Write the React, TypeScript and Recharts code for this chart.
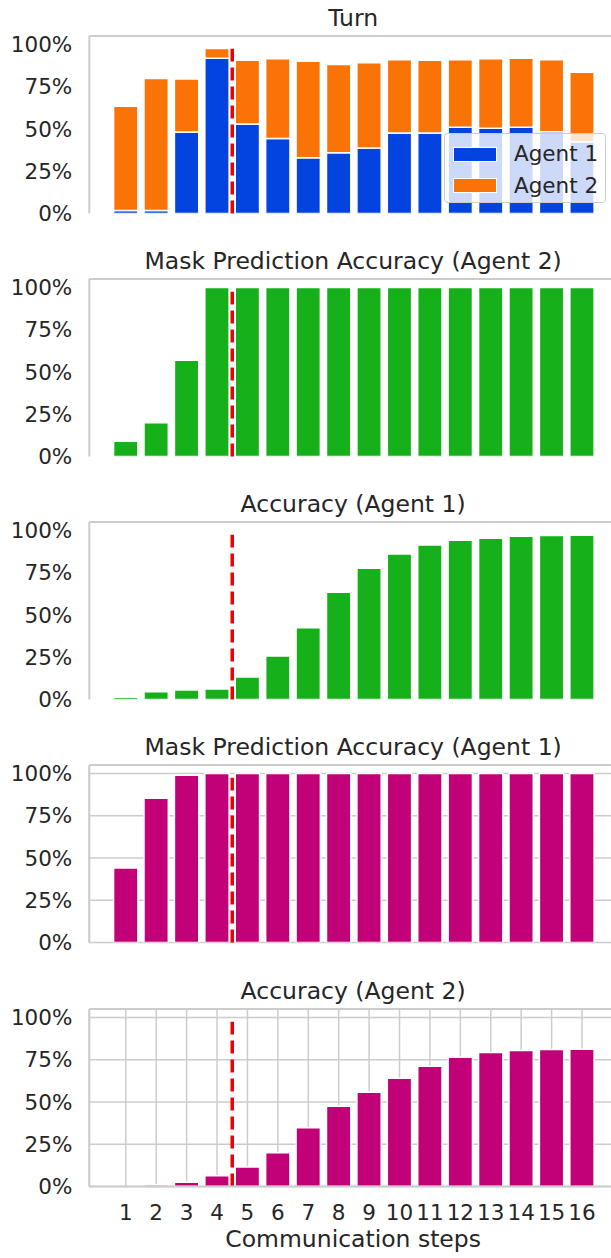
import { BarChart, Bar, XAxis, YAxis, CartesianGrid, ReferenceLine, Label } from 'recharts';

// communication steps on the x axis
const steps = [1, 2, 3, 4, 5, 6, 7, 8, 9, 10, 11, 12, 13, 14, 15, 16];

// Turn: share of turns taken by each agent (stacked)
const turnAgent1 = [0.018, 0.018, 0.482, 0.918, 0.53, 0.443, 0.33, 0.36, 0.388, 0.476, 0.476, 0.51, 0.504, 0.51, 0.484, 0.424];
const turnAgent2 = [0.617, 0.78, 0.313, 0.058, 0.376, 0.472, 0.57, 0.522, 0.504, 0.434, 0.43, 0.4, 0.411, 0.409, 0.426, 0.411];

const maskAccAgent2 = [0.09, 0.2, 0.57, 1, 1, 1, 1, 1, 1, 1, 1, 1, 1, 1, 1, 1];
const accAgent1 = [0.014, 0.046, 0.056, 0.062, 0.133, 0.257, 0.424, 0.635, 0.777, 0.861, 0.914, 0.942, 0.954, 0.966, 0.97, 0.972];
const maskAccAgent1 = [0.44, 0.853, 0.99, 1, 1, 1, 1, 1, 1, 1, 1, 1, 1, 1, 1, 1];
const accAgent2 = [0, 0.01, 0.025, 0.064, 0.115, 0.2, 0.347, 0.475, 0.558, 0.641, 0.712, 0.765, 0.792, 0.804, 0.81, 0.812];

const yTicks = [0, 0.25, 0.5, 0.75, 1];
const switchStep = 4.5; // dashed marker between step 4 and 5

const BLUE = '#0343df';
const ORANGE = '#f97306';
const GREEN = '#15b01a';
const MAGENTA = '#c20078';
const RED = '#ee0000';
const EDGE = '#cccccc';
const TEXT = '#262626';
const FONT = '"DejaVu Sans", sans-serif';

const turnSeries = [
  { key: 'agent1', name: 'Agent 1', color: BLUE, values: turnAgent1 },
  { key: 'agent2', name: 'Agent 2', color: ORANGE, values: turnAgent2 },
];

const panels = [
  { title: 'Turn', series: turnSeries, grid: false },
  { title: 'Mask Prediction Accuracy (Agent 2)', series: [{ key: 'v', name: 'v', color: GREEN, values: maskAccAgent2 }], grid: false },
  { title: 'Accuracy (Agent 1)', series: [{ key: 'v', name: 'v', color: GREEN, values: accAgent1 }], grid: false },
  { title: 'Mask Prediction Accuracy (Agent 1)', series: [{ key: 'v', name: 'v', color: MAGENTA, values: maskAccAgent1 }], grid: true },
  { title: 'Accuracy (Agent 2)', series: [{ key: 'v', name: 'v', color: MAGENTA, values: accAgent2 }], grid: true },
];

const PITCH = 243.15;
const PLOT_TOP = 36;
const PLOT_H = 177.5;
const Y_AXIS_W = 89.3;
const CHART_W = 620;

function Panel({ idx }: { idx: number }) {
  const p = panels[idx];
  const last = idx === panels.length - 1;
  const top = idx * PITCH;
  const xAxisH = last ? 61 : 0;
  const height = last ? 1258 - top : 244;
  const bottom = height - PLOT_TOP - PLOT_H - xAxisH;
  const rows = steps.map((s, i) => {
    const r: any = { step: s };
    p.series.forEach((se) => (r[se.key] = se.values[i]));
    return r;
  });
  const stacked = p.series.length > 1;

  return (
    <div style={{ position: 'absolute', left: 0, top, width: CHART_W, height }}>
      <div
        style={{
          position: 'absolute', left: Y_AXIS_W, width: CHART_W - 3 - Y_AXIS_W, top: 7, textAlign: 'center',
          fontSize: 23.5, lineHeight: '23.5px', color: TEXT, fontFamily: FONT,
        }}
      >
        {p.title}
      </div>
      <BarChart width={CHART_W} height={height} data={rows} margin={{ top: PLOT_TOP, right: 3, bottom, left: 0 }}>
        {p.grid && <CartesianGrid stroke={EDGE} strokeWidth={1.5} />}
        <XAxis
          type="number"
          dataKey="step"
          domain={[-0.2, 17.15]}
          allowDataOverflow
          ticks={steps}
          interval={0}
          height={xAxisH}
          tick={last ? { fontSize: 21.5, fill: TEXT, fontFamily: FONT } : false}
          tickLine={false}
          tickSize={0}
          tickMargin={18}
          axisLine={{ stroke: EDGE, strokeWidth: 2 }}
        >
          {last && (
            <Label value="Communication steps" position="insideBottom" offset={0}
              style={{ fontSize: 23.5, fill: TEXT, fontFamily: FONT }} />
          )}
        </XAxis>
        <YAxis
          type="number"
          domain={[0, 1.05]}
          allowDataOverflow
          ticks={yTicks}
          width={Y_AXIS_W}
          tickFormatter={(v: number) => `${Math.round(v * 100)}%`}
          tick={{ fontSize: 21.5, fill: TEXT, fontFamily: FONT }}
          tickLine={false}
          tickSize={0}
          tickMargin={17}
          axisLine={{ stroke: EDGE, strokeWidth: 2 }}
        />
        {p.series.map((se) => (
          <Bar
            key={se.key}
            dataKey={se.key}
            stackId={stacked ? 'turn' : undefined}
            fill={se.color}
            stroke="#ffffff"
            strokeWidth={1.5}
            barSize={24.3}
            isAnimationActive={false}
          />
        ))}
        <ReferenceLine y={1.05} stroke={EDGE} strokeWidth={2} />
        <ReferenceLine
          segment={[{ x: switchStep, y: 0 }, { x: switchStep, y: 0.975 }]}
          stroke={RED}
          strokeWidth={3.5}
          strokeDasharray="13 6"
        />
      </BarChart>
      {stacked && (
        <div
          style={{
            position: 'absolute', left: 444, top: 133.3, width: 162, height: 69.4, boxSizing: 'border-box',
            border: `1px solid ${EDGE}`, borderRadius: 4, background: 'rgba(255,255,255,0.8)',
            fontFamily: FONT, fontSize: 21.5, color: TEXT,
          }}
        >
          {p.series.map((se, i) => (
            <div key={se.key} style={{ position: 'absolute', left: 8, top: 8 + i * 31.5, height: 24, display: 'flex', alignItems: 'center' }}>
              <div style={{ width: 42, height: 13, background: se.color, border: '1px solid #fff' }} />
              <span style={{ marginLeft: 17, lineHeight: '24px' }}>{se.name}</span>
            </div>
          ))}
        </div>
      )}
    </div>
  );
}

export default function App() {
  return (
    <div style={{ position: 'absolute', left: 0, top: 0, width: 611, height: 1258, overflow: 'hidden', background: '#fff' }}>
      {panels.map((_, i) => (
        <Panel key={i} idx={i} />
      ))}
    </div>
  );
}
